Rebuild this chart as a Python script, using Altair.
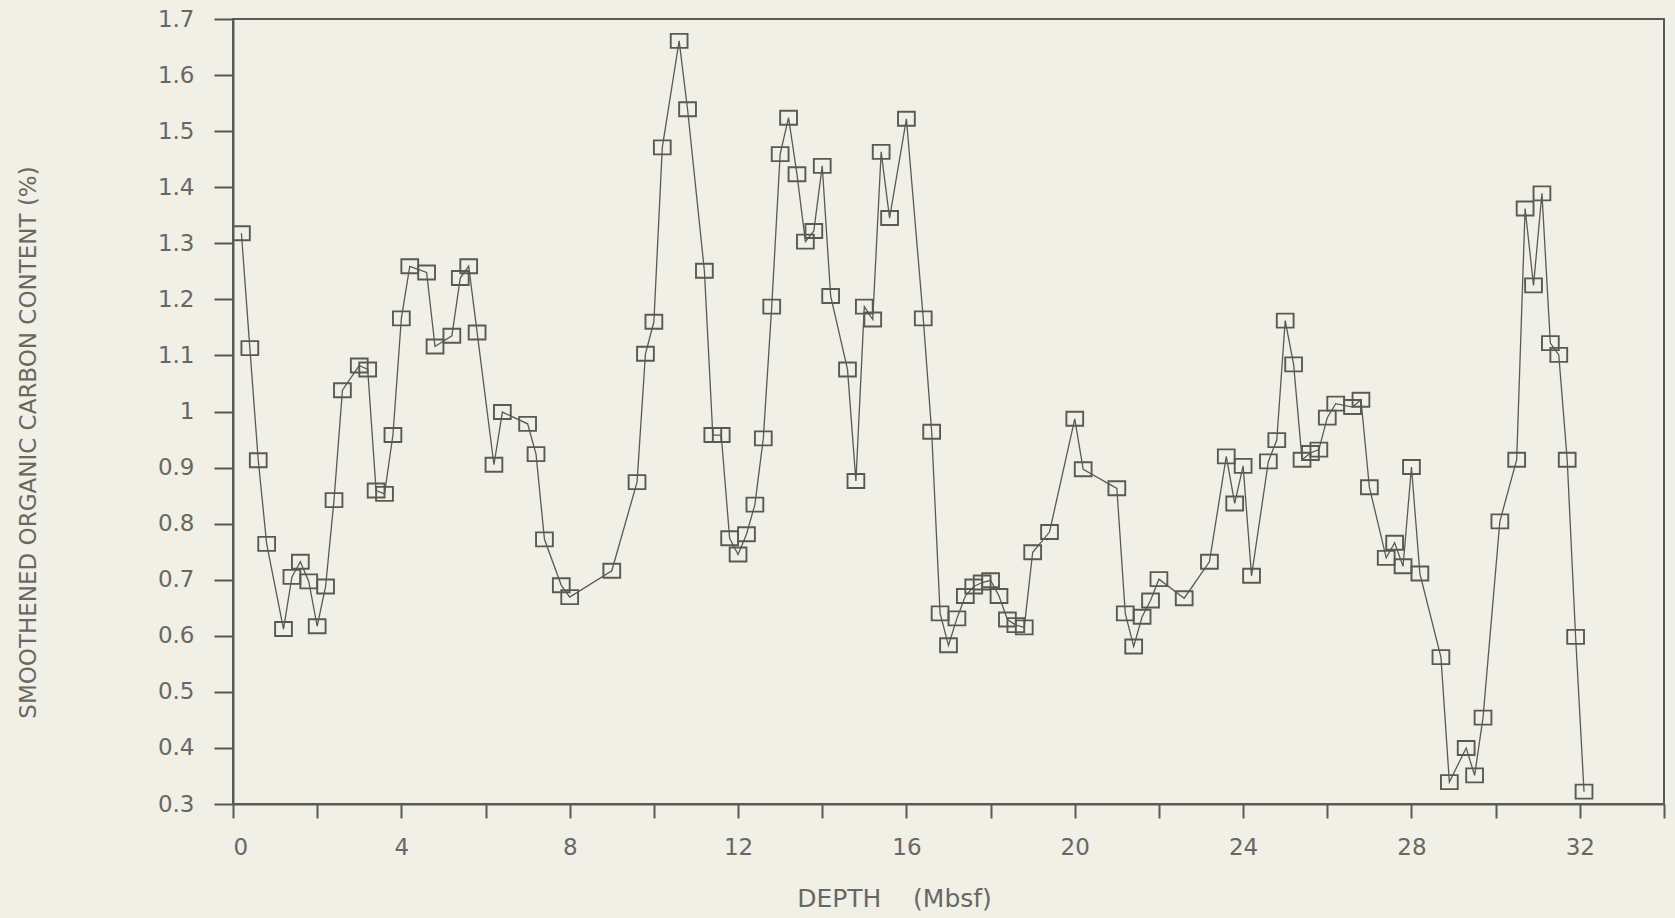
import altair as alt
import pandas as pd

# Depth below sea floor (m) and smoothed organic carbon content (%)
depth = [0.2, 0.4, 0.6, 0.8, 1.2, 1.4, 1.6, 1.8, 2.0, 2.2, 2.4, 2.6, 3.0, 3.2, 3.4,
         3.6, 3.8, 4.0, 4.2, 4.6, 4.8, 5.2, 5.4, 5.6, 5.8, 6.2, 6.4, 7.0, 7.2, 7.4,
         7.8, 8.0, 9.0, 9.6, 9.8, 10.0, 10.2, 10.6, 10.8, 11.2, 11.4, 11.6, 11.8,
         12.0, 12.2, 12.4, 12.6, 12.8, 13.0, 13.2, 13.4, 13.6, 13.8, 14.0, 14.2,
         14.6, 14.8, 15.0, 15.2, 15.4, 15.6, 16.0, 16.4, 16.6, 16.8, 17.0, 17.2,
         17.4, 17.6, 17.8, 18.0, 18.2, 18.4, 18.6, 18.8, 19.0, 19.4, 20.0, 20.2,
         21.0, 21.2, 21.4, 21.6, 21.8, 22.0, 22.6, 23.2, 23.6, 23.8, 24.0, 24.2,
         24.6, 24.8, 25.0, 25.2, 25.4, 25.6, 25.8, 26.0, 26.2, 26.6, 26.8, 27.0,
         27.4, 27.6, 27.8, 28.0, 28.2, 28.7, 28.9, 29.3, 29.5, 29.7, 30.1, 30.5,
         30.7, 30.9, 31.1, 31.3, 31.5, 31.7, 31.9, 32.1]
carbon = [1.318, 1.113, 0.913, 0.764, 0.612, 0.705, 0.732, 0.697, 0.617, 0.688,
          0.842, 1.038, 1.082, 1.075, 0.859, 0.853, 0.958, 1.166, 1.259, 1.248,
          1.116, 1.135, 1.238, 1.259, 1.141, 0.905, 0.999, 0.978, 0.924, 0.772,
          0.690, 0.669, 0.716, 0.874, 1.103, 1.160, 1.471, 1.661, 1.539, 1.251,
          0.958, 0.958, 0.774, 0.745, 0.781, 0.834, 0.952, 1.187, 1.459, 1.524,
          1.423, 1.303, 1.322, 1.438, 1.206, 1.075, 0.876, 1.187, 1.164, 1.463,
          1.345, 1.522, 1.166, 0.964, 0.640, 0.583, 0.631, 0.671, 0.688, 0.695,
          0.699, 0.671, 0.629, 0.619, 0.615, 0.749, 0.785, 0.987, 0.897, 0.863,
          0.640, 0.581, 0.634, 0.663, 0.701, 0.667, 0.732, 0.920, 0.836, 0.903,
          0.707, 0.911, 0.949, 1.162, 1.084, 0.914, 0.926, 0.932, 0.989, 1.014,
          1.008, 1.021, 0.865, 0.739, 0.766, 0.724, 0.901, 0.711, 0.562, 0.339,
          0.400, 0.351, 0.454, 0.804, 0.914, 1.362, 1.225, 1.389, 1.122, 1.101,
          0.914, 0.598, 0.322]

x_ticks = [0, 2, 4, 6, 8, 10, 12, 14, 16, 18, 20, 22, 24, 26, 28, 30, 32, 34]
y_ticks = [0.3, 0.4, 0.5, 0.6, 0.7, 0.8, 0.9, 1.0, 1.1, 1.2, 1.3, 1.4, 1.5, 1.6, 1.7]

df = pd.DataFrame({"depth": depth, "carbon": carbon})

INK = "#5a5a54"
TEXT = "#686860"
PAPER = "#f0f0e7"
FONT = "DejaVu Sans"

x_enc = alt.X(
    "depth:Q",
    scale=alt.Scale(domain=[0, 34], nice=False, zero=False),
    axis=alt.Axis(
        values=x_ticks,
        labelExpr="datum.value % 4 == 0 ? datum.label : ''",
        title="DEPTH\u00a0\u00a0\u00a0 (Mbsf)",
        titleFontSize=25,
        tickSize=14,
        labelPadding=18,
        titleX=661,
        titleY=102,
        titleBaseline="alphabetic",
        titleAlign="center",
    ),
)
y_enc = alt.Y(
    "carbon:Q",
    scale=alt.Scale(domain=[0.3, 1.7], nice=False, zero=False),
    axis=alt.Axis(
        values=y_ticks,
        format=".1~f",
        title="SMOOTHENED ORGANIC CARBON CONTENT (%)",
        titleFontSize=23,
        tickSize=19,
        labelPadding=20,
        titleX=-205,
        titleY=423,
        titleAngle=270,
        titleBaseline="middle",
        titleAlign="center",
    ),
)

line = alt.Chart(df).mark_line(color=INK, strokeWidth=1.3).encode(
    x=x_enc, y=y_enc, order="depth:Q"
)
boxes = alt.Chart(df).mark_point(
    shape="M-1.2,-1H1.2V1H-1.2Z",
    size=196,
    filled=False,
    color=INK,
    strokeWidth=1.9,
    opacity=1,
).encode(x="depth:Q", y="carbon:Q")

chart = (
    alt.layer(line, boxes)
    .properties(
        width=1431,
        height=785,
        autosize=alt.AutoSizeParams(type="none"),
        padding={"left": 233, "top": 19, "right": 11, "bottom": 114},
        background=PAPER,
    )
    .configure_view(stroke=INK, strokeWidth=2)
    .configure_axis(
        grid=False,
        domainColor=INK,
        domainWidth=2,
        tickColor=INK,
        tickWidth=2,
        labelFont=FONT,
        labelFontSize=23,
        labelColor=TEXT,
        titleFont=FONT,
        titleFontWeight="normal",
        titleColor=TEXT,
    )
)

chart.save("out.html", embed_options={"renderer": "svg", "actions": False})
